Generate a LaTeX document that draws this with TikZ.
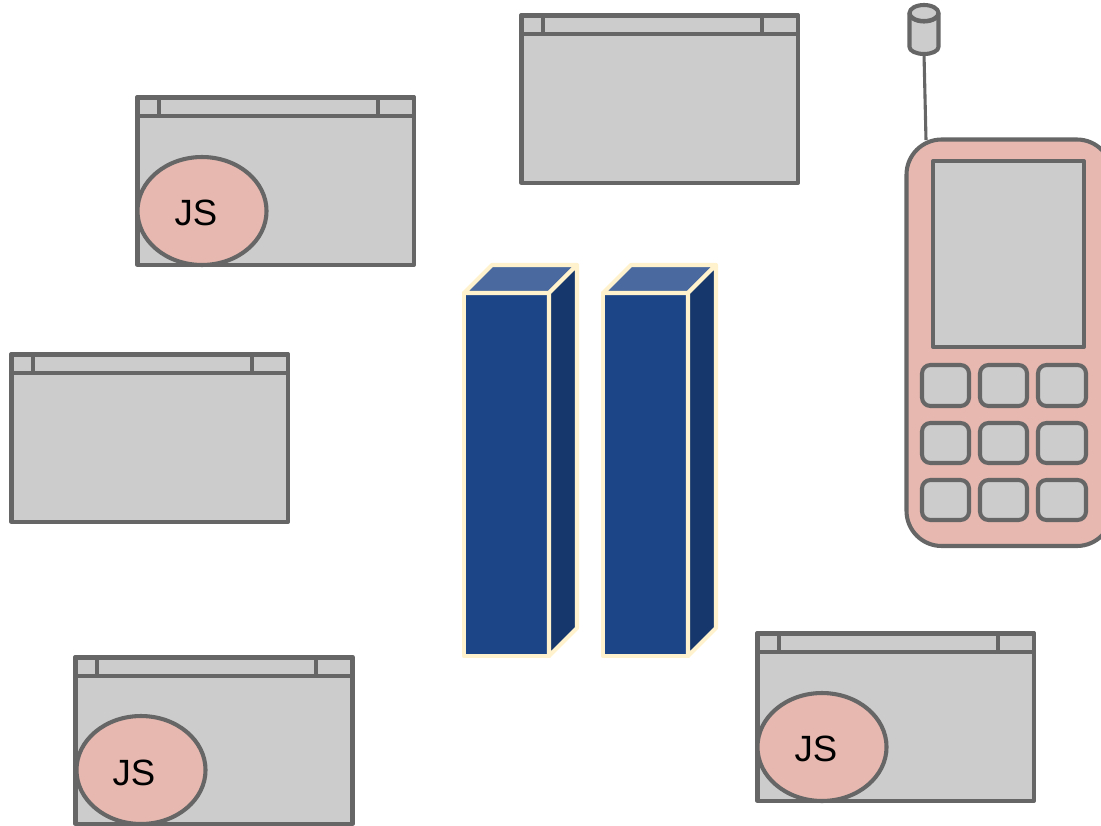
\documentclass[tikz,border=0pt]{standalone}
\usepackage{fontspec}
\setmainfont{Liberation Sans}
\usepackage{xcolor}
\usetikzlibrary{shapes.geometric}
\definecolor{boxgrey}{HTML}{CCCCCC}
\definecolor{edgegrey}{HTML}{666666}
\definecolor{bubblepink}{HTML}{E6B8AF}
\definecolor{towercream}{HTML}{FFF2CC}
\definecolor{towerfront}{HTML}{1C4587}
\definecolor{towertop}{HTML}{4A6A9F}
\definecolor{towerside}{HTML}{16376B}
\tikzset{
  greybox/.style={draw=edgegrey,fill=boxgrey,line width=2.9pt,line join=round},
  phonebody/.style={draw=edgegrey,fill=bubblepink,line width=2.9pt,rounded corners=25pt},
  phonekey/.style={greybox,rounded corners=6pt},
  jsbubble/.style={ellipse,draw=edgegrey,fill=bubblepink,line width=2.9pt,inner sep=0,outer sep=0,minimum width=91.8pt,minimum height=76.8pt},
  jslabel/.style={inner sep=0,font=\fontsize{26}{30}\selectfont},
  towerline/.style={draw=towercream,line width=3pt,line join=round},
}
\begin{document}
\begin{tikzpicture}[x={1cm/40},y={-1cm/40}]
\clip (0,0) rectangle (1101,826);
\draw[greybox] (137.5,97.5) rectangle (414,265);
\draw[greybox] (137.5,97.5) rectangle (159,116);
\draw[greybox] (159,97.5) rectangle (378,116);
\draw[greybox] (378,97.5) rectangle (414,116);
\node[jsbubble] (jsupper) at (202,211) {};
\node[jslabel] (jsupperlabel) at (196,213) {JS};
\draw[greybox] (521.5,15.5) rectangle (798,183);
\draw[greybox] (521.5,15.5) rectangle (543,34);
\draw[greybox] (543,15.5) rectangle (762,34);
\draw[greybox] (762,15.5) rectangle (798,34);
\draw[greybox] (11.5,354.5) rectangle (288,522);
\draw[greybox] (11.5,354.5) rectangle (33,373);
\draw[greybox] (33,354.5) rectangle (252,373);
\draw[greybox] (252,354.5) rectangle (288,373);
\draw[greybox] (75.5,657.5) rectangle (352.5,824);
\draw[greybox] (75.5,657.5) rectangle (97,676);
\draw[greybox] (97,657.5) rectangle (316,676);
\draw[greybox] (316,657.5) rectangle (352.5,676);
\node[jsbubble] (jslower) at (141,770) {};
\node[jslabel] (jslowerlabel) at (134,773) {JS};
\draw[greybox] (757.5,633.5) rectangle (1034,801);
\draw[greybox] (757.5,633.5) rectangle (779,652);
\draw[greybox] (779,633.5) rectangle (998,652);
\draw[greybox] (998,633.5) rectangle (1034,652);
\node[jsbubble] (jsright) at (822,747) {};
\node[jslabel] (jsrightlabel) at (816,749) {JS};
\filldraw[towerline,fill=towerfront] (464,293) rectangle (549,656);
\filldraw[towerline,fill=towertop] (464,293) -- (492,265) -- (577,265) -- (549,293) -- cycle;
\filldraw[towerline,fill=towerside] (549,293) -- (577,265) -- (577,628) -- (549,656) -- cycle;
\filldraw[towerline,fill=towerfront] (603,293) rectangle (688,656);
\filldraw[towerline,fill=towertop] (603,293) -- (631,265) -- (716,265) -- (688,293) -- cycle;
\filldraw[towerline,fill=towerside] (688,293) -- (716,265) -- (716,628) -- (688,656) -- cycle;
\coordinate (antennatop) at (924,54);
\coordinate (antennafoot) at (926,140);
\draw[draw=edgegrey,line width=2.2pt] (antennatop) -- (antennafoot);
\draw[greybox] (909.5,13) -- (909.5,47) arc[start angle=180,end angle=360,x radius=14.5,y radius=-7] -- (938.5,13) arc[start angle=0,end angle=-180,x radius=14.5,y radius=-8.5] -- cycle;
\draw[greybox] (924,13) ellipse[x radius=14.5,y radius=8];
\draw[phonebody] (906.5,139.5) rectangle (1112,546);
\draw[greybox] (933,161) rectangle (1084,347);
\draw[phonekey] (922,365) rectangle (969,406);
\draw[phonekey] (980,365) rectangle (1027,406);
\draw[phonekey] (1038,365) rectangle (1086,406);
\draw[phonekey] (922,423) rectangle (969,463);
\draw[phonekey] (980,423) rectangle (1027,463);
\draw[phonekey] (1038,423) rectangle (1086,463);
\draw[phonekey] (922,480) rectangle (969,520);
\draw[phonekey] (980,480) rectangle (1027,520);
\draw[phonekey] (1038,480) rectangle (1086,520);
\end{tikzpicture}
\end{document}
